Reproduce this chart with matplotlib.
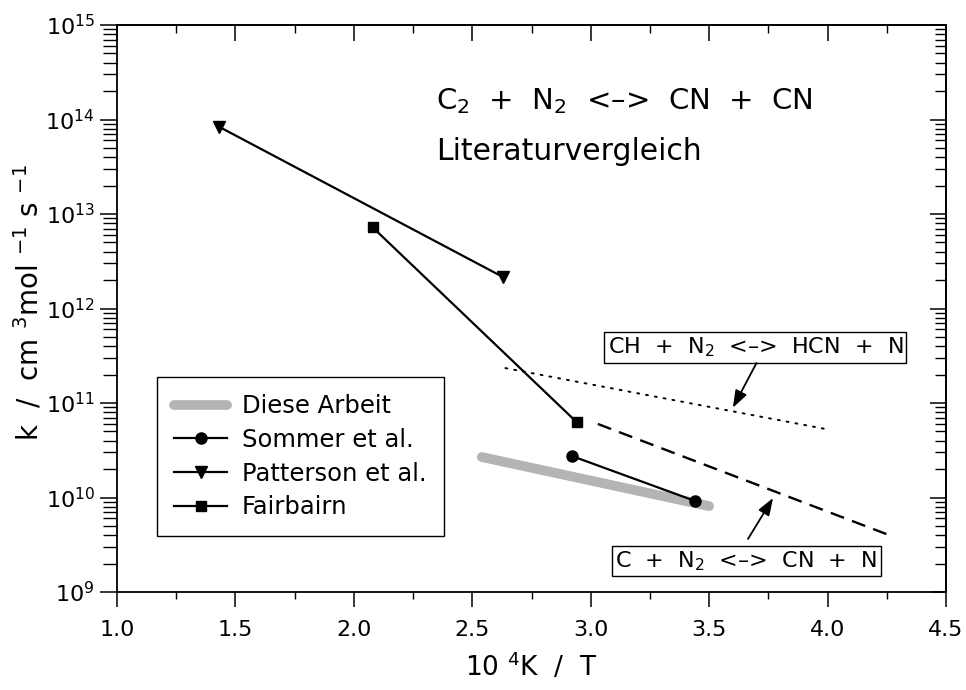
import matplotlib
matplotlib.use('Agg')
import matplotlib.pyplot as plt
from matplotlib.ticker import MultipleLocator, LogLocator, NullFormatter, FixedLocator, FormatStrFormatter
from matplotlib.lines import Line2D

plt.rcParams['font.family'] = ['DejaVu Sans']
plt.rcParams['mathtext.fontset'] = 'dejavusans'

# ---- data (10^4 K / T, k in cm^3 mol^-1 s^-1) ----
diese_x = [2.54, 3.50]
diese_k = [2.68e10, 8.1e9]
sommer_x = [2.92, 3.44]
sommer_k = [2.75e10, 9.2e9]
patterson_x = [1.43, 2.63]
patterson_k = [8.4e13, 2.15e12]
fairbairn_x = [2.08, 2.94]
fairbairn_k = [7.2e12, 6.3e10]
ch_x = [2.64, 4.01]
ch_k = [2.34e11, 5.2e10]
c_x = [3.03, 4.26]
c_k = [6.0e10, 4.0e9]

legend_labels = ['Diese Arbeit', 'Sommer et al.', 'Patterson et al.', 'Fairbairn']
y_ticks = [1e9, 1e10, 1e11, 1e12, 1e13, 1e14, 1e15]

fig = plt.figure(figsize=(9.66, 6.9), dpi=100)
ax = fig.add_axes([117/966, 98/690, 829/966, 567/690])

FS = 16

ax.plot(diese_x, diese_k, color='#b4b4b4', lw=7, solid_capstyle='round', zorder=2)
ax.plot(sommer_x, sommer_k, color='black', lw=1.6, marker='o', ms=8, zorder=3)
ax.plot(patterson_x, patterson_k, color='black', lw=1.6, marker='v', ms=9, zorder=3)
ax.plot(fairbairn_x, fairbairn_k, color='black', lw=1.6, marker='s', ms=7.5, zorder=3)
ax.plot(ch_x, ch_k, color='black', lw=1.4, linestyle=(0, (1, 3.6)), dash_capstyle='round', zorder=2)
ax.plot(c_x, c_k, color='black', lw=1.7, linestyle=(0, (6.0, 3.6)), zorder=2)

ax.set_xlim(1.0, 4.5)
ax.set_yscale('log')
ax.set_ylim(1e9, 1e15)

ax.xaxis.set_major_locator(MultipleLocator(0.5))
ax.xaxis.set_minor_locator(MultipleLocator(0.25))
ax.xaxis.set_major_formatter(FormatStrFormatter('%.1f'))
ax.yaxis.set_major_locator(FixedLocator(y_ticks))
ax.yaxis.set_minor_locator(LogLocator(base=10, subs=range(2, 10), numticks=50))
ax.yaxis.set_minor_formatter(NullFormatter())

ax.tick_params(axis='x', which='major', direction='out', length=11, width=1.1,
               labelsize=FS, pad=9, top=False)
ax.tick_params(axis='x', which='minor', direction='out', length=5, width=1.0, top=False)
ax.tick_params(axis='y', which='major', direction='out', length=12, width=1.1,
               labelsize=FS, pad=4, right=False)
ax.tick_params(axis='y', which='minor', direction='out', length=10, width=1.0, right=False)

for s in ax.spines.values():
    s.set_linewidth(1.3)

secx = ax.secondary_xaxis('top')
secx.xaxis.set_major_locator(MultipleLocator(0.5))
secx.xaxis.set_minor_locator(MultipleLocator(0.25))
secx.tick_params(axis='x', which='major', direction='in', length=11.5, width=1.1, labeltop=False)
secx.tick_params(axis='x', which='minor', direction='in', length=5.5, width=1.0)
secx.spines['top'].set_linewidth(1.3)

secy = ax.secondary_yaxis('right')
secy.yaxis.set_major_locator(FixedLocator(y_ticks))
secy.yaxis.set_minor_locator(LogLocator(base=10, subs=range(2, 10), numticks=50))
secy.yaxis.set_major_formatter(NullFormatter())
secy.yaxis.set_minor_formatter(NullFormatter())
secy.tick_params(axis='y', which='major', direction='in', length=11.5, width=1.1, labelright=False)
secy.tick_params(axis='y', which='minor', direction='in', length=8, width=1.0)
secy.spines['right'].set_linewidth(1.3)

ax.set_xlabel(r'10 $^{4}$K  /  T', fontsize=19)
ax.xaxis.set_label_coords(0.50, -0.105)
ax.set_ylabel(r'k  /  cm $^{3}$mol $^{-1}$ s $^{-1}$', fontsize=20)
ax.yaxis.set_label_coords(-0.088, 0.51)

ax.text(0.385, 0.865, r'C$_2$  +  N$_2$  <–>  CN  +  CN', transform=ax.transAxes,
        fontsize=21, ha='left', va='center')
ax.text(0.385, 0.777, 'Literaturvergleich', transform=ax.transAxes,
        fontsize=21.5, ha='left', va='center')

box = dict(boxstyle='square,pad=0.15', fc='white', ec='black', lw=1.0)
ax.text(0.770, 0.431, r'CH  +  N$_2$  <–>  HCN  +  N', transform=ax.transAxes,
        fontsize=16, ha='center', va='center', bbox=box)
ax.text(0.759, 0.055, r'C  +  N$_2$  <–>  CN  +  N', transform=ax.transAxes,
        fontsize=16, ha='center', va='center', bbox=box)

arrow = dict(arrowstyle='-|>,head_length=0.7,head_width=0.25', color='black',
             lw=1.3, mutation_scale=15, shrinkA=0, shrinkB=0)
ax.annotate('', xy=(3.60, 8.9e10), xytext=(3.70, 2.65e11), arrowprops=arrow)
ax.annotate('', xy=(3.77, 9.9e9), xytext=(3.664, 3.64e9), arrowprops=arrow)

handles = [
    Line2D([], [], color='#b4b4b4', lw=7, solid_capstyle='round'),
    Line2D([], [], color='black', lw=1.6, marker='o', ms=8),
    Line2D([], [], color='black', lw=1.6, marker='v', ms=9),
    Line2D([], [], color='black', lw=1.6, marker='s', ms=7.5),
]
leg = ax.legend(handles, legend_labels, loc='upper left', bbox_to_anchor=(0.048, 0.379),
                borderaxespad=0, fontsize=17.5, frameon=True, fancybox=False,
                edgecolor='black', framealpha=1, handlelength=2.2, handletextpad=0.6,
                labelspacing=0.4, borderpad=0.7, numpoints=1)
leg.get_frame().set_linewidth(1.0)

fig.savefig('out.png', dpi=100)
